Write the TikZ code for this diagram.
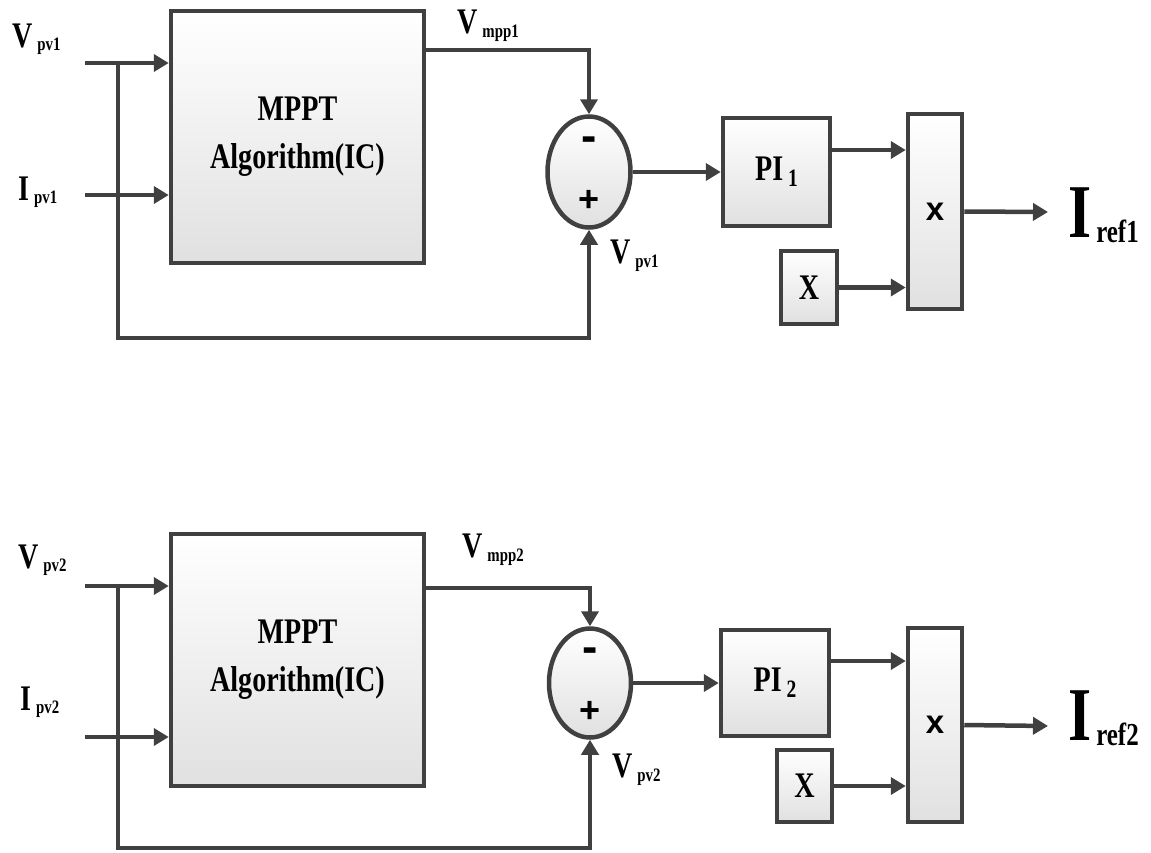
\documentclass[tikz,border=0pt]{standalone}
\usepackage{fontspec}
\setmainfont{Liberation Serif}[FakeStretch=0.78]
\newfontfamily\signfont{Liberation Sans}
\usepackage{tikz}
\usetikzlibrary{positioning,arrows.meta,shapes.geometric}
\definecolor{wire}{HTML}{404040}
% lowered subscript: size, drop, text
\newcommand{\lsub}[3]{\hspace{5pt}\raisebox{-#2pt}{\fontsize{#1}{#1}\selectfont #3}}

\begin{document}
\begin{tikzpicture}[
    x=1pt, y=-1pt,
    >={Triangle[length=15pt,width=17pt]},
    blk/.style  = {draw=wire, line width=4.5pt, top color=white, bottom color=gray!24,
                   inner sep=0pt, align=center, font=\bfseries\fontsize{36}{48}\selectfont},
    sumj/.style = {ellipse, blk},
    sgn/.style  = {inner sep=0pt, font=\signfont\bfseries\fontsize{36}{36}\selectfont},
    wr/.style   = {draw=wire, line width=4.5pt},
    arr/.style  = {wr, ->},
    lbl/.style  = {anchor=base west, inner sep=0pt, font=\bfseries\fontsize{36}{36}\selectfont},
    biglbl/.style = {lbl, font=\bfseries\fontsize{76}{76}\selectfont},
]
\useasboundingbox (0,0) rectangle (1151,852);

% ============ upper channel ============
\begin{scope}
  \node[blk, minimum width=253pt, minimum height=252pt] (mppt1) at (297.5,137) {MPPT\\Algorithm(IC)};
  \node[sumj, minimum width=83pt, minimum height=111pt] (sum1) at (589,172) {};
  \node[sgn, font=\signfont\bfseries\fontsize{46}{46}\selectfont] (mi1) at (589,144) {-};
  \node[sgn] (pl1) at (589,201) {+};
  \node[blk, minimum width=107pt, minimum height=108pt] (pi1) at (776.5,172) {PI\lsub{25}{6}{1}};
  \node[blk, minimum width=56pt, minimum height=73pt] (xb1) at (809,287.5) {X};
  \node[blk, minimum width=54pt, minimum height=195pt] (mul1) at (935,211.5)
    {\signfont\bfseries\fontsize{33}{33}\selectfont x};
  % inputs and feedback
  \coordinate (vin1) at (85,63);
  \coordinate (iin1) at (85,195);
  \coordinate (br1) at (118,63);
  \coordinate (fb1) at (118,338);
  \coordinate (vo1) at (425,50);
  \coordinate (ir1) at (1048,212);
  \draw[arr] (vin1) -- (vin1 -| mppt1.west);
  \draw[arr] (iin1) -- (iin1 -| mppt1.west);
  \draw[arr] (br1) -- (fb1) -| (sum1.south);
  \draw[arr] (vo1) -| (sum1.north);
  \draw[arr] (sum1.east) -- (pi1.west);
  \draw[arr] ([yshift=22pt]pi1.east) coordinate (pa1) -- (pa1 -| mul1.west);
  \draw[arr] (xb1.east) -- (xb1.east -| mul1.west);
  \draw[arr] (mul1.east) -- (ir1);
  % labels
  \node[lbl] (lvpv1) at (12,47) {V\lsub{19}{3}{pv1}};
  \node[lbl] (lipv1) at (18,200) {I\lsub{19}{3}{pv1}};
  \node[lbl] (lvmpp1) at (457,33) {V\lsub{19}{4}{mpp1}};
  \node[lbl] (lvfb1) at (610,263) {V\lsub{19}{4}{pv1}};
  \node[biglbl] (lir1) at (1068,237) {I\lsub{32}{5}{ref1}};
\end{scope}

% ============ lower channel ============
\begin{scope}
  \node[blk, minimum width=253pt, minimum height=252pt] (mppt2) at (297.5,660) {MPPT\\Algorithm(IC)};
  \node[sumj, minimum width=82pt, minimum height=109pt] (sum2) at (590,683) {};
  \node[sgn, font=\signfont\bfseries\fontsize{46}{46}\selectfont] (mi2) at (590,655) {-};
  \node[sgn] (pl2) at (590,712) {+};
  \node[blk, minimum width=108pt, minimum height=106pt] (pi2) at (775,683) {PI\lsub{25}{6}{2}};
  \node[blk, minimum width=55pt, minimum height=72pt] (xb2) at (804.5,786) {X};
  \node[blk, minimum width=54pt, minimum height=194pt] (mul2) at (935,725)
    {\signfont\bfseries\fontsize{33}{33}\selectfont x};
  % inputs and feedback
  \coordinate (vin2) at (85,586);
  \coordinate (iin2) at (85,737);
  \coordinate (br2) at (118,586);
  \coordinate (fb2) at (118,848);
  \coordinate (vo2) at (425,588);
  \coordinate (ir2) at (1048,726);
  \draw[arr] (vin2) -- (vin2 -| mppt2.west);
  \draw[arr] (iin2) -- (iin2 -| mppt2.west);
  \draw[arr] (br2) -- (fb2) -| (sum2.south);
  \draw[arr] (vo2) -| (sum2.north);
  \draw[arr] (sum2.east) -- (pi2.west);
  \draw[arr] ([yshift=22pt]pi2.east) coordinate (pa2) -- (pa2 -| mul2.west);
  \draw[arr] (xb2.east) -- (xb2.east -| mul2.west);
  \draw[arr] (mul2.east) -- (ir2);
  % labels
  \node[lbl] (lvpv2) at (18,568) {V\lsub{19}{3}{pv2}};
  \node[lbl] (lipv2) at (20,710) {I\lsub{19}{3}{pv2}};
  \node[lbl] (lvmpp2) at (462,557) {V\lsub{19}{4}{mpp2}};
  \node[lbl] (lvfb2) at (612,777) {V\lsub{19}{4}{pv2}};
  \node[biglbl] (lir2) at (1068,740) {I\lsub{32}{5}{ref2}};
\end{scope}

\end{tikzpicture}
\end{document}
